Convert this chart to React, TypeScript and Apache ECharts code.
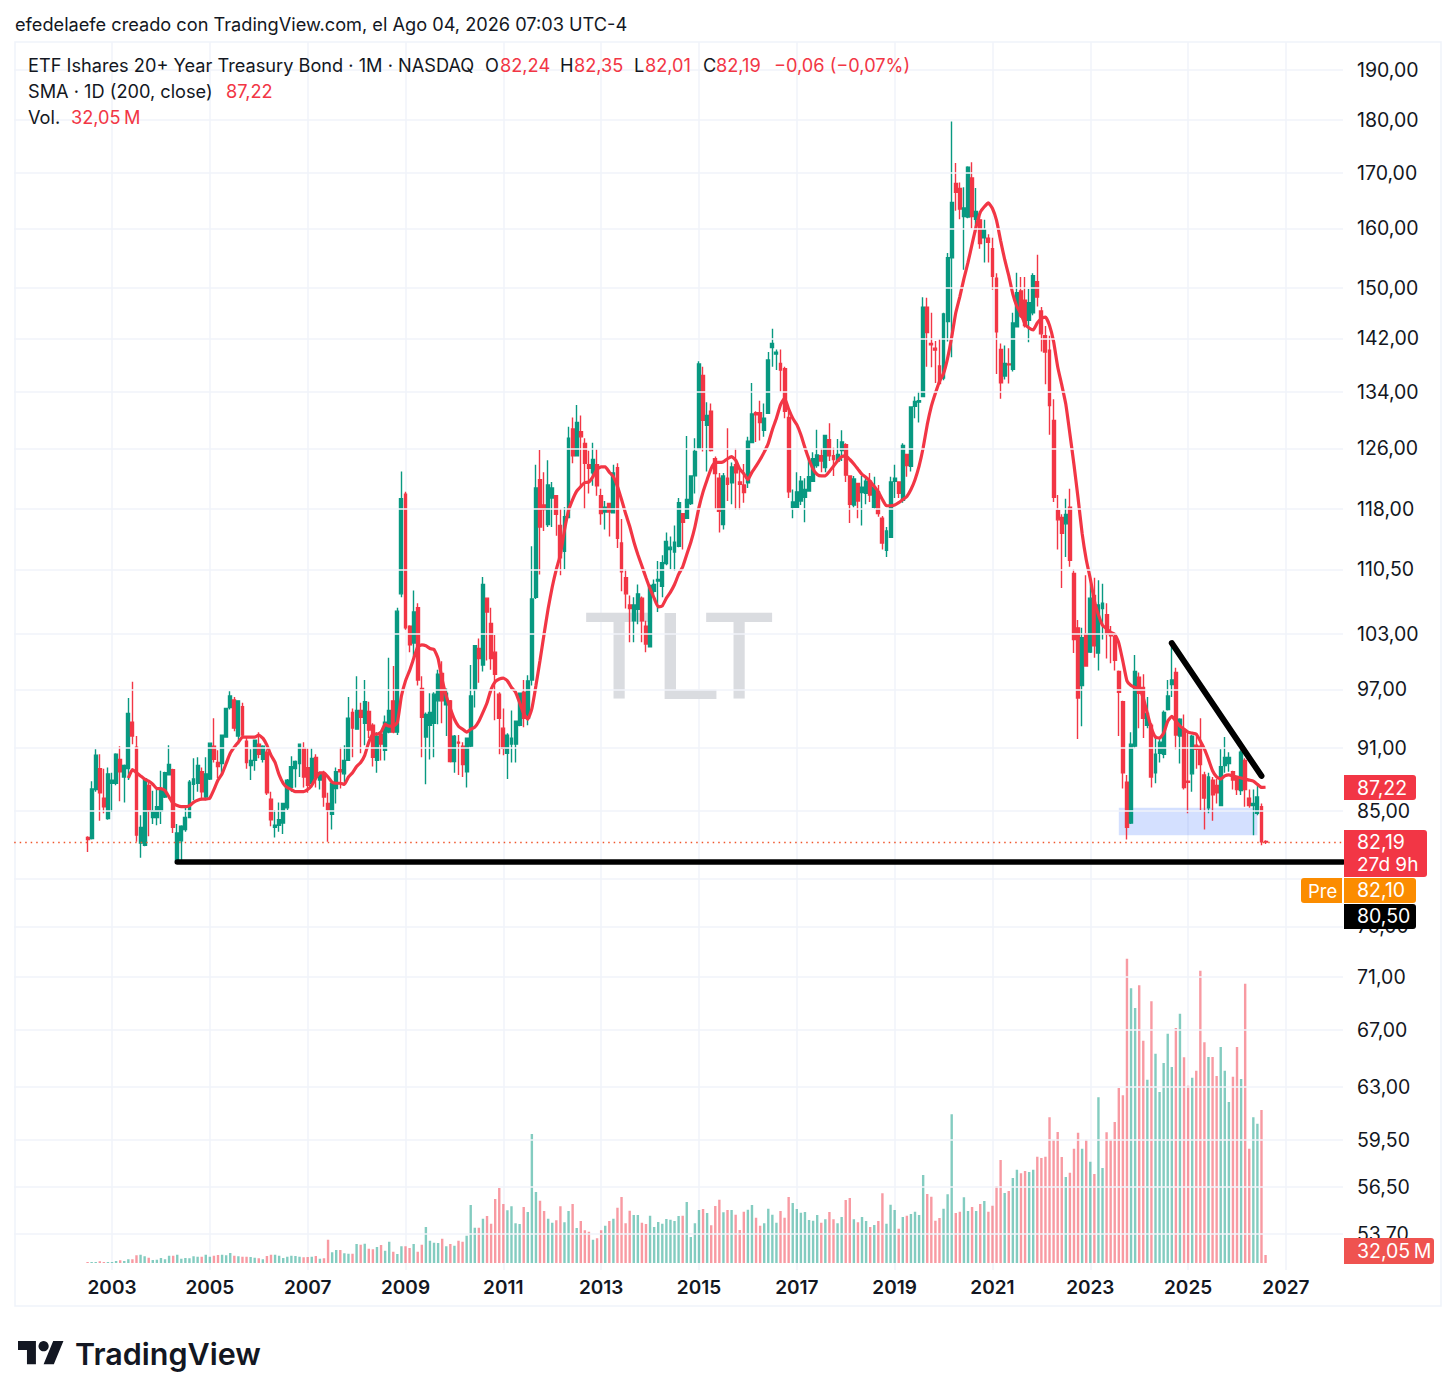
import React, { useEffect, useRef } from "react";
import * as echarts from "echarts";

const FIRST_BAR_INDEX = 18; // Jul 2002, counted from Jan 2001
const categories: string[] = [];
for (let i = 0; i < 327; i++) {
  const y = 2001 + Math.floor(i / 12);
  const m = (i % 12) + 1;
  categories.push(`${y}-${String(m).padStart(2, "0")}`);
}

const opens = [
  82.6,82.5,87,89,86.2,84.3,87.6,87.6,89.9,88.2,
  89,93.6,91.1,82.1,81.9,87.4,84.4,84.4,85,86.3,
  88.4,88.9,80.6,82.3,83.3,84.4,87.5,87.6,88.7,86.3,
  88,91.2,89.6,89.5,92.1,95.1,95.9,92.2,95.2,91.7,
  89.3,89.8,91.4,89.9,90.6,86.1,83.5,83.7,83.9,85.3,
  87.2,89,89.5,91,89.1,87.6,90.1,87.9,88.5,85.7,
  84.7,87.1,88.9,88.5,89.8,94.6,92.9,94.8,93.5,94.7,
  93.3,89.8,92.4,90.8,92.6,95.8,92.6,107.6,119.9,103.9,
  102,106,97.1,92.1,93.3,93.5,95.8,98.7,95.4,95.8,
  89.7,91.6,91.2,88.7,91.2,97,101.4,99.6,107.1,104.2,
  101,96.5,93,90.5,91.4,91.4,93.3,96.7,94,98,
  107.2,121.8,118.5,116,119.4,119.7,115.9,112.7,116.9,128.7,
  125,128.3,126.7,123.8,122.7,123.8,119.7,117.6,118.7,117.5,
  123.4,113.7,109.5,106.3,104.5,105.8,107.1,103.9,101.6,107.9,
  109.1,108.5,111.2,112.9,112.6,113.3,117.4,116.8,118.7,122.3,
  126,136.4,129.2,131.2,124.6,122,116,122,121.4,123.8,
  121.5,121.1,121.4,126.8,131,131,128.5,130.9,140.6,139.6,
  138.2,137.4,130.3,118.2,118.2,119,119.5,120.3,121.6,123.7,
  125,123.4,127.2,125,124.3,125.7,126.5,122.3,118.5,121.3,
  120.1,120,121.6,118.2,120.2,116.8,112.8,114.4,121.6,121.5,
  119.1,125.2,123.6,131.9,132.5,133.3,146.9,141.2,140.5,137.8,
  136,144.6,155,168,167.1,162.1,162,169,161.6,161.5,
  158.4,158.3,156.5,151.6,140.3,136.3,138.1,137.3,143.8,149.5,
  148,144.8,146,151,146.3,142.4,140.2,129.9,117.8,116.9,
  116.1,118.2,110,103.7,97.4,103,101,107.4,100.9,105.9,
  105.2,103,102.7,98.9,95.7,87.7,83.9,91.2,98.3,97.2,
  93.3,93.3,88.6,90.5,90.4,94.9,97.5,98.8,92.2,92.8,
  87.8,88.5,91.3,91.2,88.4,85.3,87.9,87.4,85.5,89.3,
  89.5,88.7,88.2,86.9,89.8,86.2,85.5,84.8,85.4,82.24,
];

const closes = [
  82.4,87.05,90.3,86.7,85.4,88.5,87.9,90.4,88.7,89.3,
  94.5,92.2,82.8,83.5,88,85,85,85.4,87,88.6,
  89.4,83.5,83,83.6,84.4,87.7,88,89.3,86.8,88.5,
  91.5,89.9,89.2,92.3,95,96.3,93,95.8,92.3,89.6,
  89.8,91.8,90.4,91.2,86.7,84.2,83.7,84.2,85.7,87.9,
  89.2,89.7,91.4,88.2,87.4,90,88.2,88.6,86.3,85.1,
  87.6,88.7,88.7,89.8,94,93,94.8,94.1,95.7,92.8,
  90.1,92.2,91.4,93.6,94.8,92.6,105.6,119.3,103.7,101.8,
  105.5,98,94.1,94.4,94.6,96.5,98.6,95.8,96.6,89.7,
  92.2,91.5,89.4,92,96.3,101.7,100.3,108.7,105.5,100.3,
  98.6,94,91,92.3,92,93.7,96.6,94,97.9,107,
  120.7,115.7,117.9,121.1,120.7,117.3,111.9,117,127.4,125,
  129.6,127.6,124,123.3,124.5,121,117.4,118.2,117.6,122.7,
  114.3,110.2,107.6,105.9,106.3,107.6,104.5,101.9,108.6,108.7,
  109.3,111.3,113.9,113.2,113.8,118.8,116.3,119.2,122.3,125.6,
  138.1,129.9,130.6,125.7,122.6,117.7,122.3,121.2,123.5,122.7,
  121.2,120.1,127,130.8,130.7,129.6,130.2,138.7,141.2,139.9,
  137.2,131.2,120.2,118.9,120.2,121.6,120.5,122.2,124.6,125.1,
  124.3,127.8,125,124.5,125.2,126.9,122.4,118.6,121.9,119,
  120.8,121.6,119.8,120.8,117.4,113.7,115.2,121.5,122,120,
  126.4,123.7,131.8,132.6,132.7,146.9,142.9,141,140.2,135.2,
  145.8,155,164.6,166.4,163.4,163.6,171,162.1,163,157.4,
  159.8,157.6,151.9,143,135.3,138.2,138,144.4,149.2,145.5,
  144,147.6,152,148.5,142.7,139.9,132,119.5,116.6,114.9,
  117.3,111.6,102.4,96.1,102.6,99.5,107.1,101.7,106.3,106.5,
  103,102.8,100.1,96.7,88.6,83.5,91.4,98.9,96.6,94,
  94.5,88.2,90.4,91.6,94.6,96.3,98,92.3,93.9,87.2,
  87.7,92.2,90.9,89.4,86.2,88.2,86.5,86.7,89.2,90.1,
  90.1,87.9,87,90.6,87,85.5,85.7,86.3,82.2,82.19,
];

const lows = [
  81.3,82.4,86.8,84.1,84.8,84.2,84.9,87.4,85.9,85.8,
  87.9,91.4,82.2,80.8,81.8,82.7,83.8,83.7,83.8,86.2,
  88.4,83,80.6,80.6,83.1,84.4,86,86.8,86,86,
  87.9,89.6,88.1,88.4,92.1,94.9,92.7,91.4,92.1,89,
  87.9,88.8,90,89.6,86.5,83.6,82.6,83.1,82.9,85.1,
  86.8,87.2,88.2,87.2,86.7,87.2,87.2,87,85.4,82.2,
  83.3,85.7,87.1,87.7,89.8,90.1,92.9,90.5,91.3,92,
  89.2,88.6,89.8,89.8,92.5,92.5,92.3,107.2,103.5,101,
  100.4,97.4,90.1,87.5,89.9,90.1,93.4,93.5,92.2,89.6,
  88.6,88.4,88.2,87.2,91.1,95.1,97.7,98.9,100.1,99.1,
  93.8,90.4,90.3,88,89.6,89.6,93.2,93.1,93.3,97.4,
  107,109.9,115.2,115.7,115.7,114.6,109.8,110.5,116.8,124,
  125,120.7,118,120,121,119.7,116,115.4,114.5,117.4,
  113.1,107.9,105.9,102.1,102.1,104.1,102.1,101,101.6,107.2,
  105.5,107.2,111,110.5,110.3,113.2,112.9,116.8,118.5,120,
  126,125.6,122.9,125.6,118,115,115.4,119,118.6,117.9,
  117.9,118.8,120.7,126.8,126.9,127.1,127.6,130.8,137.7,137.2,
  134,130.2,119.4,116.8,118.2,118.5,116.3,120.3,121.5,123.4,
  122.8,122.8,124.3,122.3,124.3,124.3,121.5,116.2,118.2,116.8,
  115.9,118.6,118.9,118,117,112.9,112,114.4,119.4,119.4,
  118.8,122.2,122.9,130.2,129.6,133.3,137.7,137.6,135.3,135.2,
  135.7,141.5,139.1,163.1,161.6,153,161.8,160,159.3,156.5,
  154.2,154.2,149.7,136.6,133,135.8,135.2,137,143.7,145.2,
  143.7,141.4,145.6,147,140,135.1,127.9,118.9,112.9,108.3,
  112,110.8,100.9,91.9,93.2,99.4,100.9,100.4,99,102.4,
  100.3,99.8,99,92.2,87.1,82.4,83.8,91,93,92,
  93,87.2,87.6,89.6,90,94.8,96.2,90.9,89.5,87,
  84.8,86.8,89,85.1,83.3,84.8,84.1,85.7,85.5,88.6,
  88.7,87,86.5,86.5,85.4,85.3,82.8,84.6,81.9,82.01,
];

const highs = [
  82.7,87.8,90.9,90.4,89,89.1,88.6,90.5,91.2,89.4,
  96.1,97.8,92.2,84.6,88.1,87.9,86.9,87.1,88.8,88.7,
  91.3,89,83.8,83.7,85.5,87.9,90,90.1,89.1,90.1,
  91.5,94,90.8,92.3,95,96.8,96.2,95.8,95.6,92.1,
  90.9,91.8,92.6,91.3,90.9,86.8,85.1,85.8,85.7,88,
  90.2,89.8,91.4,91.6,91,91,90.4,88.7,88.8,86.7,
  87.6,89.1,91.1,91.3,96.2,95,98.4,95.6,98,95.7,
  93.5,92.6,92.7,94.3,100.4,99.5,106,122.9,120.2,104,
  108,106.5,98.4,94.6,96.6,96.7,99.1,100,97.1,95.9,
  92.3,92.3,91.6,92,99.6,101.7,102.5,109.6,107.1,106,
  102.9,96.7,95,92.5,94.8,93.7,96.6,98,98.5,113.3,
  123.8,125.8,122.8,124.4,121.5,119.7,118,118.2,129,130.3,
  132.1,130.6,127.4,125.7,126.8,125.9,120.6,119,118.8,123.8,
  124,116.7,110.5,107.4,107.2,108.7,107.3,104.5,108.7,109.3,
  111.5,112.2,115,114.5,115.9,119.4,117.4,127.7,122.4,127.4,
  138.5,137.7,132.5,132.3,124.9,122.7,122.7,128.8,124.1,126,
  123.4,123.9,127.6,135.3,131.2,132.7,132.3,139.9,143.5,140.3,
  140.3,137.7,131.2,120.5,122.8,122.3,122,125,125.5,128.6,
  126,127.9,129.5,126.1,127.3,128.5,126.7,122.4,122.3,121.4,
  122.3,122.3,122.7,122.2,121.1,117.1,115.7,122.2,123.8,121.6,
  126.7,125.2,131.9,133.3,134,148.5,148.4,146,141.6,141.9,
  146,155.8,179.7,171.8,168.2,167.3,171.2,171.9,167.2,162.1,
  161.5,159,158.4,152.4,141.2,140.9,140.5,146,152.5,151.8,
  151.8,149.8,152.4,155.5,146.9,143.9,142.4,132.9,119.8,117.3,
  119.3,120.6,110.5,104.6,103.7,109.8,108.7,109.5,109.2,108.8,
  106.5,103.9,103,99,95.8,88.4,92.6,100.7,98.8,98.6,
  96.2,93.5,92.3,92.1,94.8,98,101.8,99.3,94,94.4,
  92.7,92.3,92.3,94,88.7,88.6,88.2,88,90.9,92.1,
  90.6,88.8,88.2,90.8,90,87,87,87.6,85.7,82.35,
];

const SMA_START_BAR = 10;
const smaValues = [
  88.1,88.9,88.6,88.3,88,87.8,87.5,87.1,87.1,86.9,
  86.3,85.7,85.5,85.4,85.4,85.5,85.8,86,86.1,86.1,
  86.2,87,87.9,88.5,89.5,90.5,91.1,91.6,92.1,92.1,
  92.1,92.1,92.3,92,91.3,90.3,89.6,88.4,87.6,87.2,
  87,86.8,86.8,86.8,87,87.4,88.1,88.6,88.6,88.2,
  87.7,87.6,87.6,87.5,88.2,88.6,89.2,89.6,90.3,91.6,
  92.4,92.4,92.6,93.4,93.2,93.2,93.6,96.3,97.9,99,
  100.3,101.6,101.8,101.7,101.4,101.3,100.3,98,96.3,95,
  93.9,93.2,92.9,92.6,92.9,93.1,93.7,94.6,95.6,97,
  97.8,98.1,98.2,97.9,97.2,96.7,95.6,94.5,93.9,95,
  97.4,100.1,103,105.9,108.4,110.5,112.3,115.3,117.8,119.2,
  120.3,120.9,121.4,121.5,122.2,123.2,123.5,123.5,122.8,122.2,
  120.9,119.2,117.4,115.8,113.9,112.3,110.9,109.5,108.2,107.1,
  106.1,106.2,107.1,107.8,108.7,109.9,110.8,112.3,113.8,115.7,
  118.2,120.2,121.8,123.3,124.1,124.1,124.2,124.6,124.9,124.4,
  123.2,122.6,121.8,122.8,123.6,124.5,125.5,126.7,128.6,130.2,
  132.1,133.1,131.5,130.2,129.3,127.9,126.1,124.5,123.2,122.5,
  122.3,122.3,122.9,123.6,124.3,124.9,125,124.5,123.9,123.2,
  122.5,122.1,121.6,120.9,120.2,119.2,118.4,118.4,118.5,118.8,
  119.2,119.6,120.5,121.8,123.6,126.1,129.3,131.9,133.8,135.5,
  136.7,139,142.2,146,148.6,151.5,154.2,157.3,160.3,162.8,
  163.8,164.5,163.5,161.4,157.9,154.7,152,149,147,145.8,
  144.2,143.6,143.3,144.4,145.1,145.3,144,141.5,137.7,135,
  132.2,128,123.8,119.4,114.9,111.7,109.4,106.8,105.2,104,
  103.6,103.2,103,102,100,97.9,97.4,97.2,97.1,96.1,
  94.5,93,92.1,92,92.5,93.7,94.2,93.7,93.2,92.9,
  92.6,92.5,92.4,91.7,90.9,89.9,88.8,88.2,88,88.3,
  88.4,88.3,88.2,88.1,88,87.9,87.8,87.5,87.2,87.22,
];

// Volume in millions of shares
const volumes = [
  4,4,4,7,4,4,4,8,11,8,
  15,15,31,33,27,21,12,13,20,15,
  29,29,33,17,20,19,27,25,25,33,
  25,29,32,33,31,40,29,27,25,25,
  24,21,19,15,28,33,33,29,20,25,
  29,28,25,23,24,25,28,17,19,93,
  43,52,52,39,37,37,76,73,77,57,
  55,64,72,49,85,45,36,67,67,60,
  76,45,73,144,89,81,80,97,67,76,
  69,89,85,109,232,141,141,177,188,157,
  256,300,236,211,227,159,156,224,204,516,
  284,249,208,177,161,171,227,163,208,236,
  140,168,131,125,93,99,131,149,168,177,
  221,264,159,209,192,192,161,156,189,144,
  164,157,176,173,168,188,189,244,104,159,
  212,216,200,151,228,253,203,212,212,193,
  132,205,213,232,181,149,159,217,193,161,
  208,181,264,240,216,201,204,172,169,192,
  161,175,204,175,159,184,252,260,175,163,
  184,168,144,152,168,279,157,233,212,137,
  184,189,196,205,192,352,276,265,169,180,
  217,275,595,200,205,263,208,224,208,236,
  248,205,229,307,412,280,288,340,373,359,
  368,364,373,425,420,425,583,493,524,424,
  344,361,457,521,457,493,405,356,663,380,
  523,493,564,700,671,1217,1099,1020,1111,889,
  733,1047,837,684,800,917,784,940,997,823,
  709,741,769,1169,883,824,824,748,864,769,
  644,745,864,736,1117,457,583,557,612,32.05,
];

const priceTicks = [190,180,170,160,150,142,134,126,118,110.5,103,97,91,85,79,75,71,67,63,59.5,56.5,53.7];
const unlabeledTicks = [79];
const yearLabels = ["2003","2005","2007","2009","2011","2013","2015","2017","2019","2021","2023","2025","2027"];
const lastPrice = 82.19;
const supportPrice = 80.45;
const trendLine = [
  { category: 284, price: 102.0 },
  { category: 306, price: 88.3 },
];
const supportStartCategory = 40;
const zone = { fromCategory: 271, toCategory: 305, top: 85.3, bottom: 82.8 };

const UP = "#089981";
const DOWN = "#F23645";
const FONT = "Inter, 'Noto Sans', sans-serif";
const INK = "#131722";

const fmt = (v: number) => v.toFixed(2).replace(".", ",");

function txt(text: string, x: number, y: number, fill: string, size = 18.2, extra: any = {}) {
  return {
    type: "text",
    x,
    y,
    z: 100,
    silent: true,
    style: { text, fill, font: `${extra.weight || 400} ${size}px ${FONT}`, verticalAlign: "middle", align: extra.align || "left" },
  };
}

function badge(x: number, y: number, w: number, h: number, fill: string, r: any = [0, 3, 3, 0]) {
  return { type: "rect", z: 99, silent: true, shape: { x, y, width: w, height: h, r }, style: { fill } };
}

export default function App() {
  const ref = useRef<HTMLDivElement>(null);
  useEffect(() => {
    if (!ref.current) return;
    const chart = echarts.init(ref.current, null, { renderer: "svg" });
    echarts.graphic.registerShape(
      "tvlogo",
      echarts.graphic.extendPath("M14 22H7V11H0V4h14v18zM28 22h-8l7.5-18h8L28 22z", {}) as any
    );

    const isUp = opens.map((o, i) => closes[i] >= o);
    const candleData = categories.map((_, c) => {
      const i = c - FIRST_BAR_INDEX;
      if (i < 0 || i >= opens.length) return ["-", "-", "-", "-"];
      return [opens[i], closes[i], lows[i], highs[i]];
    });
    const smaData = smaValues.map((v, i) => [FIRST_BAR_INDEX + SMA_START_BAR + i, v]);
    const volumeData = volumes.map((v, i) => ({
      value: [FIRST_BAR_INDEX + i, v],
      itemStyle: { color: isUp[i] ? "rgba(8,153,129,0.5)" : "rgba(242,54,69,0.5)" },
    }));

    const isYearTick = (i: number) => yearLabels.includes(categories[i].slice(0, 4)) && categories[i].endsWith("-01");

    chart.setOption({
      animation: false,
      backgroundColor: "#ffffff",
      grid: { left: 14.2, top: 42, width: 1328.8, height: 1228, containLabel: false },
      xAxis: {
        type: "category",
        data: categories,
        boundaryGap: false,
        axisLine: { show: false },
        axisTick: { show: false },
        splitLine: {
          show: true,
          interval: (i: number) => isYearTick(i),
          lineStyle: { color: "#F0F3FA", width: 1.5 },
        },
        axisLabel: {
          show: true,
          interval: (i: number) => isYearTick(i),
          formatter: (v: string) => v.slice(0, 4),
          color: INK,
          fontFamily: FONT,
          fontSize: 19,
          fontWeight: 600,
          margin: 8,
          hideOverlap: false,
        },
      },
      yAxis: [
        {
          type: "log",
          logBase: 10,
          min: 51.64,
          max: 195.9,
          axisLine: { show: false },
          axisTick: { show: false },
          axisLabel: { show: false },
          splitLine: { show: false },
        },
        {
          type: "value",
          min: -28,
          max: 4884,
          show: false,
          splitLine: { show: false },
        },
      ],
      series: [
        {
          type: "line",
          name: "ticks",
          z: 0,
          data: [],
          silent: true,
          markLine: {
            silent: true,
            symbol: "none",
            animation: false,
            lineStyle: { color: "#F0F3FA", width: 1.5, type: "solid" },
            label: {
              show: true,
              position: "end",
              distance: 14,
              color: INK,
              fontFamily: FONT,
              fontSize: 19.5,
              formatter: (p: any) => fmt(p.value),
            },
            data: priceTicks.map((v) =>
              unlabeledTicks.includes(v) ? { yAxis: v, label: { show: false } } : { yAxis: v }
            ),
          },
        },
        {
          type: "line",
          name: "zone",
          z: 1,
          data: [],
          silent: true,
          markArea: {
            silent: true,
            itemStyle: { color: "rgba(41,98,255,0.2)" },
            data: [[
              { xAxis: zone.fromCategory, yAxis: zone.top },
              { xAxis: zone.toCategory, yAxis: zone.bottom },
            ]],
          },
        },
        {
          type: "bar",
          name: "Vol.",
          yAxisIndex: 1,
          z: 2,
          barWidth: 2.4,
          data: volumeData,
          silent: true,
        },
        {
          type: "candlestick",
          name: "TLT",
          z: 3,
          barWidth: 3.4,
          silent: true,
          itemStyle: { color: UP, color0: DOWN, borderColor: UP, borderColor0: DOWN, borderWidth: 1.4 },
          data: candleData,
        },
        {
          type: "line",
          name: "SMA",
          z: 4,
          data: smaData,
          showSymbol: false,
          symbol: "none",
          smooth: 0.15,
          silent: true,
          lineStyle: { color: DOWN, width: 3.2 },
        },
        {
          type: "line",
          name: "marks",
          z: 5,
          data: [],
          silent: true,
          markLine: {
            silent: true,
            symbol: "none",
            animation: false,
            label: { show: false },
            data: [
              { yAxis: lastPrice, lineStyle: { color: "#F0552B", width: 1.3, type: [1.5, 4] } },
              [
                { coord: [supportStartCategory, supportPrice], lineStyle: { color: "#000000", width: 5.5, type: "solid", cap: "round" } },
                { coord: [326, supportPrice] },
              ],
              [
                { coord: [trendLine[0].category, trendLine[0].price], lineStyle: { color: "#000000", width: 6, type: "solid", cap: "round" } },
                { coord: [trendLine[1].category, trendLine[1].price] },
              ],
            ],
          },
        },
      ],
      graphic: [
        { type: "rect", z: 0, silent: true, shape: { x: 15, y: 42, width: 1426, height: 1264 }, style: { fill: "none", stroke: "#F0F3FA", lineWidth: 1.5 } },
        {
          type: "text", x: 679, y: 658, z: 1, silent: true,
          style: { text: "TLT", fill: "#DADCE0", font: `400 120px Roboto, ${FONT}`, align: "center", verticalAlign: "middle" },
        },
        txt("efedelaefe creado con TradingView.com, el Ago 04, 2026 07:03 UTC-4", 15, 24, INK),
        txt("ETF Ishares 20+ Year Treasury Bond · 1M · NASDAQ", 28, 65, INK),
        txt("O", 485, 65, INK), txt("82,24", 500, 65, DOWN),
        txt("H", 560, 65, INK), txt("82,35", 574, 65, DOWN),
        txt("L", 634, 65, INK), txt("82,01", 645, 65, DOWN),
        txt("C", 703, 65, INK), txt("82,19", 716, 65, DOWN),
        txt("−0,06 (−0,07%)", 774, 65, DOWN),
        txt("SMA · 1D (200, close)", 28, 91, INK), txt("87,22", 226, 91, DOWN),
        txt("Vol.", 28, 117, INK), txt("32,05\u202fM", 71, 117, DOWN),

        badge(1344, 775, 72, 25, "#F23645"), txt("87,22", 1357, 788, "#ffffff", 19.5),
        badge(1344, 830, 83, 47, "#F23645"), txt("82,19", 1357, 842, "#ffffff", 19.5), txt("27d 9h", 1357, 864, "#ffffff", 19),
        badge(1301, 878, 41, 25, "#FB8C00", [3, 0, 0, 3]), txt("Pre", 1308, 891, "#ffffff", 18.5),
        badge(1344, 878, 72, 25, "#FB8C00"), txt("82,10", 1357, 890, "#ffffff", 19.5),
        badge(1344, 904, 72, 25, "#000000"), txt("80,50", 1357, 916, "#ffffff", 19.5),
        badge(1344, 1238, 90, 26, "#EF5350"), txt("32,05\u202fM", 1357, 1251, "#ffffff", 19.5),

        { type: "tvlogo", x: 18, y: 1336, scaleX: 1.28, scaleY: 1.28, z: 100, silent: true, style: { fill: "#131722" } },
        { type: "circle", z: 100, silent: true, shape: { cx: 18 + 20 * 1.28, cy: 1336 + 8 * 1.28, r: 4 * 1.28 }, style: { fill: "#131722" } },
        txt("TradingView", 75, 1353, "#131722", 30.5, { weight: 600 }),
      ],
    });
    return () => chart.dispose();
  }, []);

  return <div ref={ref} style={{ position: "absolute", left: 0, top: 0, width: 1456, height: 1399, background: "#fff" }} />;
}
